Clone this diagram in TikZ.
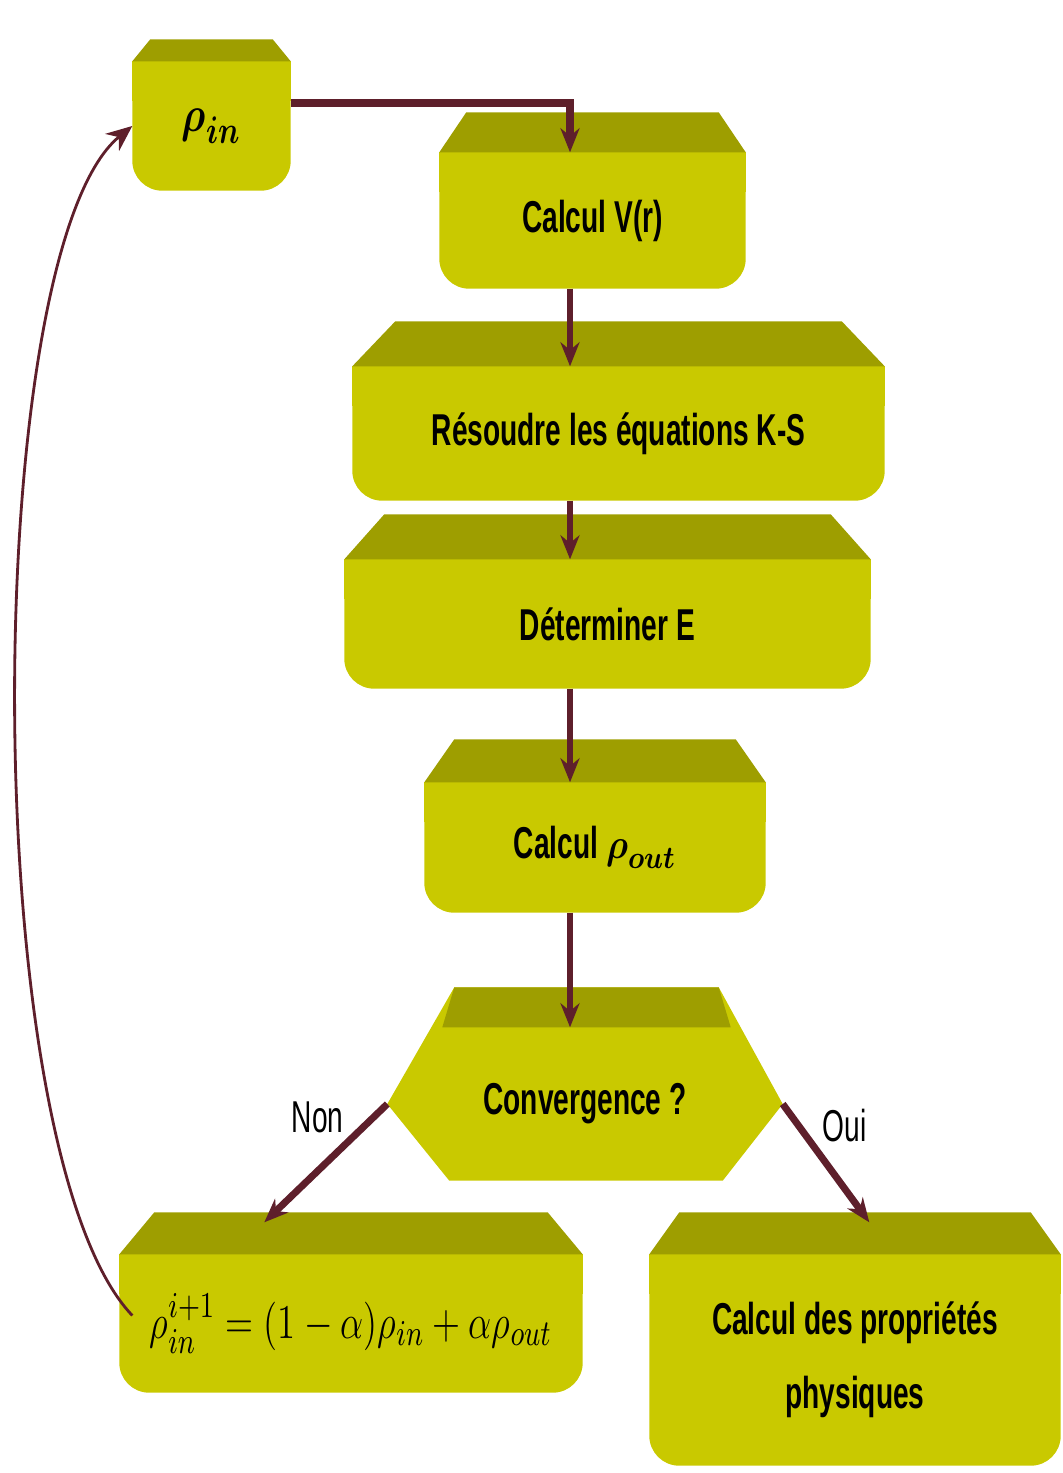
\documentclass[tikz,border=0pt]{standalone}
\usepackage{amsmath}
\usepackage{fontspec}
\setmainfont[FakeStretch=0.63]{Liberation Sans}
\usetikzlibrary{arrows.meta, positioning, calc, backgrounds}
\definecolor{boxface}{HTML}{C9C900}
\definecolor{boxband}{HTML}{9E9E00}
\definecolor{flowline}{HTML}{5E1F2B}
\newcommand{\boxfont}{\fontsize{12.7}{21}\selectfont\bfseries}
\newcommand{\mathboxfont}{\fontsize{12.7}{15}\selectfont}
\newcommand{\bigrhofont}{\fontsize{15}{18}\selectfont}

% beveled slab round a node: name, chamfer, band depth (band sits above the node)
\newcommand{\bevelslab}[3]{%
  \fill[boxface, rounded corners=3mm] (#1.north west) rectangle (#1.south east);
  \fill[boxface] (#1.north west) rectangle ([yshift=-4mm]#1.north east);
  \fill[boxband] ([xshift=#2,yshift=#3]#1.north west) -- ([xshift=-#2,yshift=#3]#1.north east)
    -- (#1.north east) -- (#1.north west) -- cycle;}

\begin{document}
\begin{tikzpicture}[
      >=Stealth,
      blk/.style={inner sep=0pt, align=center, font=\boxfont},
      flow/.style={draw=flowline, line width=1.5pt, -{Stealth[length=2.4mm, width=1.9mm]}},
      loopback/.style={draw=flowline, line width=0.8pt, -{Stealth[length=2.6mm, width=2.2mm]}},
      lbl/.style={font=\mathboxfont, inner sep=1pt}]
    \useasboundingbox (0,0) rectangle (10.63,-14.73);
    \node[blk, minimum width=1.57cm, minimum height=1.28cm, font=\bigrhofont] (rhoin) at (2.115,-1.26) {\scalebox{0.78}[1]{$\boldsymbol{\rho}_{\boldsymbol{in}}$}};
    \node[blk, minimum width=3.05cm, minimum height=1.35cm] (calcV) at (5.925,-2.205) {Calcul V(r)};
    \node[blk, minimum width=5.31cm, minimum height=1.33cm] (resoudre) at (6.185,-4.335) {Résoudre les équations K-S};
    \node[blk, minimum width=5.25cm, minimum height=1.28cm] (determiner) at (6.075,-6.24) {Déterminer E};
    \node[blk, minimum width=3.40cm, minimum height=1.29cm] (calcrho) at (5.95,-8.475) {Calcul \scalebox{0.85}[1]{$\boldsymbol{\rho}_{\boldsymbol{out}}$}};
    \node[blk, minimum width=3.94cm, minimum height=1.52cm] (conv) at (5.85,-11.04) {Convergence ?};
    \node[blk, minimum width=4.62cm, minimum height=1.37cm, font=\mathboxfont] (rhonew) at (3.51,-13.235) {\scalebox{0.87}[1.15]{$\rho_{in}^{i+1} = (1-\alpha)\rho_{in} + \alpha\rho_{out}$}};
    \node[blk, minimum width=4.10cm, minimum height=2.10cm] (propr) at (8.55,-13.60) {Calcul des propriétés\\physiques};
    \coordinate (spine) at (5.70,0);

    \begin{scope}[on background layer]
      \bevelslab{rhoin}{1.8mm}{2.2mm}
      \bevelslab{calcV}{2.7mm}{4mm}
      \bevelslab{resoudre}{4.3mm}{4.5mm}
      \bevelslab{determiner}{4mm}{4.5mm}
      \bevelslab{calcrho}{3mm}{4.3mm}
      \bevelslab{rhonew}{3.5mm}{4.2mm}
      \bevelslab{propr}{3mm}{4.2mm}
      \fill[boxface] ([xshift=6.7mm,yshift=4mm]conv.north west) -- ([xshift=-6.4mm,yshift=4mm]conv.north east) -- (conv.east)
        -- ([xshift=-6mm]conv.south east) -- ([xshift=6.2mm]conv.south west) -- (conv.west) -- cycle;
      \fill[boxband] ([xshift=6.7mm,yshift=4mm]conv.north west) -- ([xshift=-6.4mm,yshift=4mm]conv.north east)
        -- ([xshift=-5.2mm]conv.north east) -- ([xshift=5.5mm]conv.north west) -- cycle;
    \end{scope}

    \draw[flow, line width=2.3pt] ([yshift=2.3mm]rhoin.east) -| (calcV.north -| spine);
    \draw[flow] (calcV.south -| spine) -- (resoudre.north -| spine);
    \draw[flow] (resoudre.south -| spine) -- (determiner.north -| spine);
    \draw[flow] (determiner.south -| spine) -- (calcrho.north -| spine);
    \draw[flow] (calcrho.south -| spine) -- (conv.north -| spine);
    \draw[flow, line width=2pt] (conv.west) -- node[lbl, pos=0.3, anchor=south east] {Non} ([xshift=1.45cm,yshift=3.2mm]rhonew.north west);
    \draw[flow, line width=2pt] (conv.east) -- node[lbl, pos=0.38, anchor=south west] {Oui} ([xshift=2.2cm,yshift=3.2mm]propr.north west);
    \draw[loopback] ([xshift=1.3mm,yshift=0.8mm]rhonew.west) .. controls (-0.25,-11.5) and (-0.20,-2.5) .. (rhoin.west);
  \end{tikzpicture}
\end{document}
